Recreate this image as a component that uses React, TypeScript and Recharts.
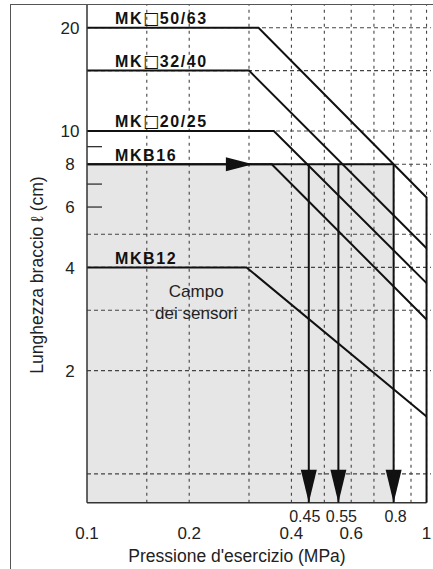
import React from "react";
import {
  ComposedChart,
  Line,
  XAxis,
  YAxis,
  ReferenceLine,
  ReferenceArea,
  ReferenceDot,
  Label,
} from "recharts";

// axis ranges (log-log)
const X_MIN = 0.1;
const X_MAX = 1.03;
const Y_MIN = 0.824;
const Y_MAX = 23.3;

// cylinder curves: pressure (MPa) -> arm length (cm)
const mk5063 = [
  { x: 0.1, y: 20 },
  { x: 0.32, y: 20 },
  { x: 1, y: 6.4 },
  { x: 1, y: Y_MIN },
];
const mk3240 = [
  { x: 0.1, y: 15 },
  { x: 0.3, y: 15 },
  { x: 1, y: 4.55 },
];
const mk2025 = [
  { x: 0.1, y: 10 },
  { x: 0.355, y: 10 },
  { x: 1, y: 3.6 },
];
const mkb16 = [
  { x: 0.1, y: 8 },
  { x: 0.35, y: 8 },
  { x: 1, y: 2.82 },
];
const mkb12 = [
  { x: 0.1, y: 4 },
  { x: 0.295, y: 4 },
  { x: 1, y: 1.47 },
];

const seriesNames = ["MK□50/63", "MK□32/40", "MK□20/25", "MKB16", "MKB12"];
const seriesStart = [20, 15, 10, 8, 4];

const readLength = 8;
const readPressures = [0.45, 0.55, 0.8];
const readArrowX = 0.308;

const xTicks = [0.1, 0.2, 0.4, 0.45, 0.55, 0.6, 0.8, 1];
const xTicksUpper = [0.45, 0.55, 0.8];
const yTicks = [2, 4, 6, 8, 10, 20];
const yMinorTicks = [6, 7, 9];
const xGrid = [0.15, 0.2, 0.3, 0.4, 0.5, 0.6, 0.7, 0.8, 0.9, 1];
const yGrid = [1, 2, 3, 4, 5, 8, 10, 15, 20];

const FONT = "'Liberation Sans', Arial, Helvetica, sans-serif";
const INK = "#111";

const readPath = [
  { x: X_MIN, y: readLength },
  { x: Math.max(...readPressures), y: readLength },
];

// small nudges so the tightly packed upper labels don't collide
const upperShift: Record<string, number> = { "0.45": -4, "0.55": 3, "0.8": 2 };

const XTick = (props: any) => {
  const { x, payload } = props;
  const s = String(payload.value);
  const upper = xTicksUpper.includes(payload.value);
  return (
    <text
      x={x + (upper ? upperShift[s] || 0 : 0)}
      y={upper ? 521.5 : 538.5}
      textAnchor="middle"
      fontFamily={FONT}
      fontSize={upper ? 16 : 17}
      fill="#222"
    >
      {s}
    </text>
  );
};

const YTick = (props: any) => {
  const { y, payload } = props;
  return (
    <text
      x={70}
      y={y}
      dy="0.36em"
      textAnchor="middle"
      fontFamily={FONT}
      fontSize={17}
      fill="#222"
    >
      {String(payload.value)}
    </text>
  );
};

const downArrow = (p: any) => (
  <polygon
    points={`${p.cx - 8},${p.cy - 33} ${p.cx + 8},${p.cy - 33} ${p.cx},${p.cy}`}
    fill={INK}
  />
);

const rightArrow = (p: any) => (
  <polygon
    points={`${p.cx - 27},${p.cy - 7} ${p.cx - 27},${p.cy + 7} ${p.cx},${p.cy}`}
    fill={INK}
  />
);

const SeriesName = ({ name }: { name: string }) => {
  const parts = name.split("□");
  if (parts.length === 1) return <>{name}</>;
  return (
    <>
      {parts[0]}
      <tspan
        fontFamily="'DejaVu Sans', sans-serif"
        fontWeight="normal"
        fontSize={17}
        letterSpacing={0.5}
      >
        □
      </tspan>
      {parts[1]}
    </>
  );
};

export default function App() {
  return (
    <div
      style={{
        position: "absolute",
        left: 0,
        top: 0,
        width: 433,
        height: 569,
        background: "#fff",
        fontFamily: FONT,
      }}
    >
      <div
        style={{
          position: "absolute",
          left: 10,
          top: 4,
          width: 423,
          height: 565,
          borderLeft: "1.5px solid #555",
          borderTop: "1.5px solid #555",
        }}
      />
      <ComposedChart
        width={433}
        height={569}
        margin={{ top: 5, right: 2.1, bottom: 6.3, left: 0 }}
        style={{ position: "absolute", left: 0, top: 0 }}
      >
        <XAxis
          dataKey="x"
          type="number"
          scale="log"
          domain={[X_MIN, X_MAX]}
          allowDataOverflow
          ticks={xTicks}
          interval={0}
          tick={<XTick />}
          tickLine={false}
          axisLine={false}
          height={60}
        >
          <Label
            content={() => (
              <text
                x={237}
                y={562}
                textAnchor="middle"
                fontFamily={FONT}
                fontSize={17.5}
                fill="#222"
              >
                Pressione d'esercizio (MPa)
              </text>
            )}
          />
        </XAxis>
        <YAxis
          type="number"
          scale="log"
          domain={[Y_MIN, Y_MAX]}
          allowDataOverflow
          ticks={yTicks}
          interval={0}
          tick={<YTick />}
          tickLine={false}
          axisLine={{ stroke: "#333", strokeWidth: 1.5 }}
          width={87}
        >
          <Label
            content={() => (
              <text
                transform="translate(43,275) rotate(-90)"
                textAnchor="middle"
                fontFamily={FONT}
                fontSize={17.5}
                fill="#222"
              >
                Lunghezza braccio ℓ (cm)
              </text>
            )}
          />
        </YAxis>

        {/* sensor range */}
        <ReferenceArea
          x1={X_MIN}
          x2={Math.max(...readPressures)}
          y1={Y_MIN}
          y2={readLength}
          fill="#e6e6e6"
          fillOpacity={1}
          stroke="none"
        />

        {xGrid.map((v) => (
          <ReferenceLine
            key={"gx" + v}
            x={v}
            stroke="#444"
            strokeWidth={1.1}
            strokeDasharray="3 4"
          />
        ))}
        {yGrid.map((v) => (
          <ReferenceLine
            key={"gy" + v}
            y={v}
            stroke="#444"
            strokeWidth={1.1}
            strokeDasharray="4 3"
          />
        ))}
        {yMinorTicks.map((v) => (
          <ReferenceLine
            key={"mt" + v}
            segment={[
              { x: X_MIN, y: v },
              { x: 0.1107, y: v },
            ]}
            stroke="#333"
            strokeWidth={1.3}
          />
        ))}
        <ReferenceLine
          segment={[
            { x: X_MIN, y: Y_MIN },
            { x: 1, y: Y_MIN },
          ]}
          stroke="#333"
          strokeWidth={1.5}
        />

        {[mk5063, mk3240, mk2025, mkb16, mkb12].map((d, i) => (
          <Line
            key={"s" + i}
            data={d}
            dataKey="y"
            type="linear"
            stroke={INK}
            strokeWidth={2}
            dot={false}
            activeDot={false}
            isAnimationActive={false}
          />
        ))}
        <Line
          data={readPath}
          dataKey="y"
          type="linear"
          stroke={INK}
          strokeWidth={2}
          dot={false}
          activeDot={false}
          isAnimationActive={false}
        />
        {readPressures.map((p) => (
          <Line
            key={"r" + p}
            data={[
              { x: p, y: readLength },
              { x: p, y: Y_MIN },
            ]}
            dataKey="y"
            type="linear"
            stroke={INK}
            strokeWidth={2}
            dot={false}
            activeDot={false}
            isAnimationActive={false}
          />
        ))}

        {readPressures.map((p) => (
          <ReferenceDot
            key={"a" + p}
            x={p}
            y={Y_MIN}
            r={1}
            shape={downArrow}
          />
        ))}
        <ReferenceDot x={readArrowX} y={readLength} r={1} shape={rightArrow} />

        {seriesNames.map((name, i) => (
          <ReferenceDot
            key={"n" + i}
            x={X_MIN}
            y={seriesStart[i]}
            r={1}
            shape={(p: any) => (
              <text
                x={p.cx + 28}
                y={p.cy - 3.5}
                fontFamily={FONT}
                fontSize={16}
                fontWeight="bold"
                letterSpacing={1.6}
                fill={INK}
              >
                <SeriesName name={name} />
              </text>
            )}
          />
        ))}
        <ReferenceDot
          x={0.2}
          y={3}
          r={1}
          shape={(p: any) => (
            <text
              x={p.cx + 7}
              textAnchor="middle"
              fontFamily={FONT}
              fontSize={17}
              fill="#222"
            >
              <tspan x={p.cx + 7} y={p.cy - 13}>
                Campo
              </tspan>
              <tspan x={p.cx + 7} y={p.cy + 9}>
                dei sensori
              </tspan>
            </text>
          )}
        />
      </ComposedChart>
    </div>
  );
}
